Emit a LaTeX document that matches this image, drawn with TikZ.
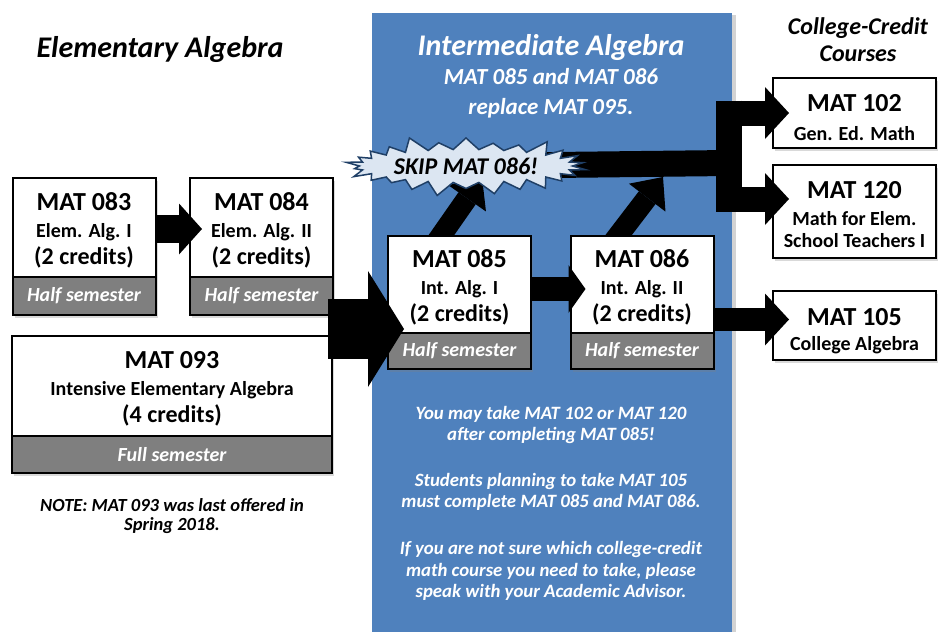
\documentclass[tikz,border=0pt]{standalone}
\usepackage{fontspec}
\setmainfont{Carlito}
\usetikzlibrary{arrows.meta, positioning, shapes.symbols, shadows}

\definecolor{panelblue}{HTML}{4F81BD}
\definecolor{termgray}{HTML}{7F7F7F}
\definecolor{burstfill}{HTML}{DCE6F2}
\definecolor{burstline}{HTML}{1F3F66}

\newcommand{\codefont}{\fontsize{26}{27}\selectfont\bfseries}
\newcommand{\namefont}{\fontsize{20}{27}\selectfont\bfseries}
\newcommand{\credfont}{\fontsize{24}{27}\selectfont\bfseries}
\newcommand{\termfont}{\fontsize{20}{24}\selectfont\bfseries\itshape}
\newcommand{\headfont}{\fontsize{30}{32}\selectfont\bfseries\itshape}
\newcommand{\subheadfont}{\fontsize{23}{30}\selectfont\bfseries\itshape}
\newcommand{\collfont}{\fontsize{24}{27}\selectfont\bfseries\itshape}
\newcommand{\notefont}{\fontsize{18.8}{21.7}\selectfont\bfseries\itshape}
\newcommand{\padtop}[1]{\rule{0pt}{#1}}

\pgfdeclarelayer{bg}
\pgfsetlayers{bg,main}

\tikzset{
  course/.style={draw, rectangle, fill=white, line width=2pt, inner sep=0pt, align=center,
    minimum width=143pt, minimum height=99pt, font=\namefont,
    drop shadow={opacity=0.3, shadow xshift=2pt, shadow yshift=-3pt}},
  term/.style={draw, rectangle, fill=termgray, text=white, line width=2pt, inner sep=0pt,
    minimum width=143pt, minimum height=38pt, font=\termfont,
    drop shadow={opacity=0.3, shadow xshift=2pt, shadow yshift=-3pt}},
  blk/.style={line width=25pt, -{Triangle[width=52pt, length=24pt, line width=0pt]}},
  bigblk/.style={line width=60pt, -{Triangle[width=116pt, length=36pt, line width=0pt]}},
  trunk/.style={line width=26pt},
  burst/.style={starburst, starburst points=26, starburst point height=16pt,
    fill=burstfill, draw=burstline, line width=1.5pt, minimum width=208pt, minimum height=52pt,
    font=\fontsize{24}{25}\selectfont\bfseries\itshape}
}

\begin{document}
\begin{tikzpicture}[x=1pt, y=-1pt]
    \useasboundingbox (0,0) rectangle (938,632);

    % blue band behind the intermediate courses
    \begin{pgfonlayer}{bg}
    \node[fill=panelblue, minimum width=360pt, minimum height=640pt, inner sep=0pt,
          drop shadow={opacity=0.35, shadow xshift=4pt, shadow yshift=-2pt}] (panel) at (552,333) {};
    \end{pgfonlayer}

    % headings
    \node[font=\headfont] (elemhead) at (160,50) {Elementary Algebra};
    \node[font=\headfont, text=white] (inthead) at (551,48) {Intermediate Algebra};
    \node[font=\subheadfont, text=white, align=center] (intsub) at (551,93.5) {MAT 085 and MAT 086\\replace MAT 095.};
    \node[font=\collfont, align=center] (collhead) at (858,40) {College-Credit\\Courses};

    % elementary algebra
    \node[course] (m083) at (84,227.5) {\padtop{23pt}\codefont MAT 083\\ \namefont Elem. Alg. I\\ \credfont (2 credits)};
    \node[term, below=-2pt of m083] (t083) {Half semester};
    \node[course] (m084) at (261.5,227.5) {\padtop{23pt}\codefont MAT 084\\ \namefont Elem. Alg. II\\ \credfont (2 credits)};
    \node[term, below=-2pt of m084] (t084) {Half semester};
    \node[course, minimum width=320pt, minimum height=100pt] (m093) at (172,386) {\padtop{23pt}\codefont MAT 093\\ \namefont Intensive Elementary Algebra\\ \credfont (4 credits)};
    \node[term, minimum width=320pt, minimum height=37pt, below=-2pt of m093] (t093) {Full semester};
    \node[font=\fontsize{18.5}{18.5}\selectfont\bfseries\itshape, align=center] (note093) at (172,516) {NOTE: MAT 093 was last offered in\\Spring 2018.};

    % intermediate algebra
    \node[course, minimum height=97pt] (m085) at (459.5,284.5) {\padtop{23pt}\codefont MAT 085\\ \namefont Int. Alg. I\\ \credfont (2 credits)};
    \node[term, minimum height=36pt, below=-2pt of m085] (t085) {Half semester};
    \node[course, minimum height=97pt] (m086) at (642,284.5) {\padtop{23pt}\codefont MAT 086\\ \namefont Int. Alg. II\\ \credfont (2 credits)};
    \node[term, minimum height=36pt, below=-2pt of m086] (t086) {Half semester};

    % college-credit courses
    \node[course, minimum width=163pt, minimum height=70pt] (m102) at (854.5,113) {\padtop{27pt}\codefont MAT 102\\[2pt] \namefont Gen. Ed. Math};
    \node[course, minimum width=163pt, minimum height=93pt] (m120) at (854.5,211.5) {\padtop{24pt}\codefont MAT 120\\ \namefont Math for Elem.\\[-5pt] \namefont School Teachers I};
    \node[course, minimum width=163pt, minimum height=69pt] (m105) at (854.5,325.5) {\padtop{29pt}\codefont MAT 105\\[-2pt] \namefont College Algebra};

    % notes in the blue band
    \node[font=\notefont, text=white, align=center] (note1) at (551,425) {You may take MAT 102 or MAT 120\\after completing MAT 085!};
    \node[font=\notefont, text=white, align=center] (note2) at (551,492) {Students planning to take MAT 105\\must complete MAT 085 and MAT 086.};
    \node[font=\notefont, text=white, align=center] (note3) at (551,571) {If you are not sure which college-credit\\math course you need to take, please\\speak with your Academic Advisor.};

    \node[burst] (skip) at (466,166) {SKIP MAT 086!};

    % arrows behind the boxes
    \coordinate (hub) at (729,163);
    \coordinate (up) at (hub |- m102.west);
    \coordinate (lowbase) at (hub |- m120.west);
    \begin{pgfonlayer}{bg}
    \draw[trunk] (skip.center) -- (hub);
    \draw[trunk] ([yshift=12.5pt]up) -- (lowbase);
    \draw[line width=21pt, -{Triangle[width=46pt, length=26pt, line width=0pt]}] ([xshift=-25pt,yshift=-10pt]m085.north) -- ([xshift=16pt,yshift=-11pt]skip.center);
    \draw[line width=21pt, -{Triangle[width=46pt, length=26pt, line width=0pt]}] ([xshift=-31pt,yshift=-10pt]m086.north) -- ([xshift=-66pt,yshift=-14pt]hub);
    \end{pgfonlayer}

    % arrows over the boxes
    \coordinate (merge) at ([yshift=6pt]m093.north east);
    \coordinate (mergeend) at (merge -| m085.west);
    \draw[line width=28pt, -{Triangle[width=51pt, length=23pt, line width=0pt]}] ([yshift=-1.5pt]m083.east) -- ([xshift=13pt,yshift=-1.5pt]m084.west);
    \draw[bigblk] ([xshift=-5pt]merge) -- ([xshift=17pt]mergeend);
    \draw[line width=24pt, -{Triangle[width=48pt, length=17pt, line width=0pt]}] ([yshift=-4.5pt]m085.east) -- ([xshift=16pt,yshift=-4.5pt]m086.west);
    \draw[blk] (up) -- ([xshift=17pt]m102.west);
    \draw[blk] ([yshift=12.5pt]lowbase) -- ([xshift=17pt,yshift=12.5pt]m120.west);
    \draw[blk, line width=23pt] ([yshift=-35pt]m086.east) -- ([xshift=17pt,yshift=6pt]m105.west);
\end{tikzpicture}
\end{document}
